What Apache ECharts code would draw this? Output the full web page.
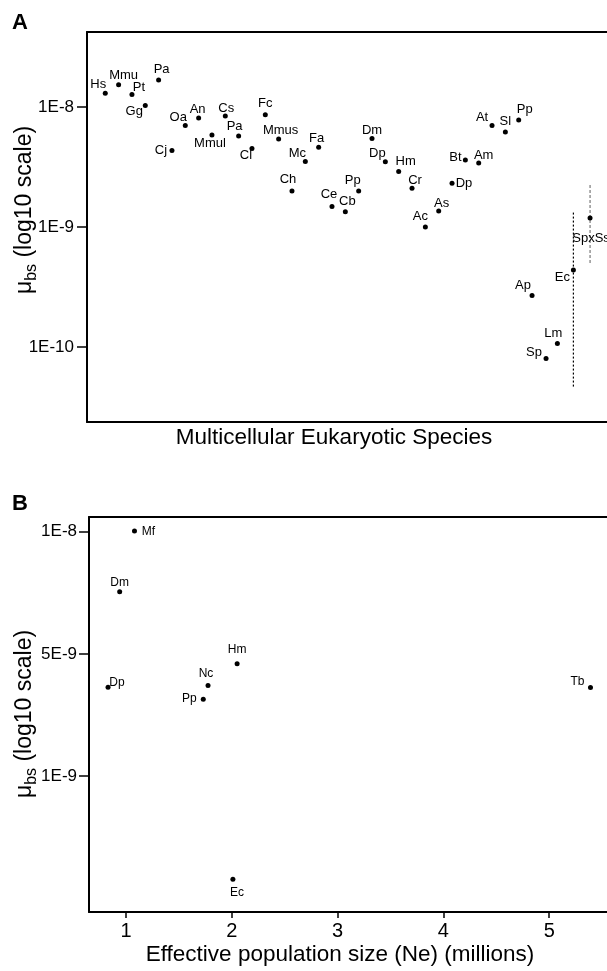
<!DOCTYPE html>
<html>
<head>
<meta charset="utf-8">
<script src="https://cdn.jsdelivr.net/npm/echarts@6/dist/echarts.min.js"></script>
<style>
html, body { margin: 0; padding: 0; background: #fff; }
#chart { width: 607px; height: 971px; }
</style>
</head>
<body>
<div id="chart"></div>
<script>
// Panel A: multicellular eukaryotes, base-substitution mutation rate (per site per generation)
const speciesA = ['Hs', 'Mmu', 'Pt', 'Gg', 'Pa', 'Cj', 'Oa', 'An', 'Mmul', 'Cs', 'Pa', 'Cl', 'Fc', 'Mmus', 'Ch', 'Mc',
  'Fa', 'Ce', 'Cb', 'Pp', 'Dm', 'Dp', 'Hm', 'Cr', 'Ac', 'As', 'Dp', 'Bt', 'Am', 'At', 'Sl', 'Pp', 'Ap', 'Sp', 'Lm', 'Ec', 'SpxSs']
const orderA = [0, 1, 2, 3, 4, 5, 6, 7, 8, 9, 10, 11, 12, 13, 14, 15,
  16, 17, 18, 19, 20, 21, 22, 23, 24, 25, 26, 27, 28, 29, 30, 31, 32, 33.05, 33.9, 35.1, 36.35]
const muA = [1.30e-8, 1.53e-8, 1.27e-8, 1.03e-8, 1.68e-8, 4.33e-9, 7.0e-9, 8.1e-9, 5.85e-9, 8.4e-9, 5.73e-9, 4.52e-9, 8.6e-9, 5.41e-9, 2.0e-9, 3.52e-9,
  4.61e-9, 1.48e-9, 1.34e-9, 2.0e-9, 5.47e-9, 3.5e-9, 2.9e-9, 2.1e-9, 1.0e-9, 1.36e-9, 2.31e-9, 3.61e-9, 3.41e-9, 7.0e-9, 6.19e-9, 7.79e-9, 2.68e-10, 8.03e-11, 1.07e-10, 4.38e-10, 1.19e-9]
// ranges drawn as vertical dotted lines
const ecRange = [4.68e-11, 1.32e-9]
const spxssRange = [5.0e-10, 2.25e-9]
const ticksA = [-10, -9, -8]

// Panel B: effective population size (millions) vs mu (position on the printed axis)
const speciesB = ['Mf', 'Dm', 'Dp', 'Nc', 'Pp', 'Hm', 'Ec', 'Tb']
const neB = [1.08, 0.94, 0.83, 1.775, 1.73, 2.05, 2.01, 5.39]
const yPosB = [2.006, 1.508, 0.727, 0.74, 0.629, 0.918, -0.844, 0.724]
const ticksB = [0, 1, 2]
const tickLabelsB = ['1E-9', '5E-9', '1E-8']
const ticksBx = [1, 2, 3, 4, 5]

// where each label sits relative to its dot
const labelOffsetA = [[-7, -9], [5, -9], [7, -7], [-11, 6], [3, -11], [-11, 0], [-7, -8], [-1, -9], [-2, 8], [1, -8], [-4, -10], [-6, 7], [0, -11], [2, -9], [-4, -11], [-8, -8],
  [-2, -9], [-3, -12], [2, -10], [-6, -10], [0, -8], [-8, -8], [7, -10], [3, -8], [-5, -11], [3, -8], [12, 0], [-10, -3], [5, -8], [-10, -8], [0, -11], [6, -11], [-9, -10], [-12, -6], [-4, -10], [-11, 7], [1, 20]]
const labelOffsetB = [[14, 1], [0, -9], [9, -5], [-2, -12], [-14, 0], [0, -14], [4, 14], [-13, -6]]

const FONT = 'Liberation Sans, Arial, sans-serif'

const chart = echarts.init(document.getElementById('chart'))

const dataA = speciesA.map(function (s, i) {
  return {
    name: s,
    value: [orderA[i], Math.log10(muA[i])],
    label: { offset: labelOffsetA[i] }
  }
})
const dataB = speciesB.map(function (s, i) {
  return {
    name: s,
    value: [neB[i], yPosB[i]],
    label: { offset: labelOffsetB[i] }
  }
})

const yNameRich = {
  m: { fontSize: 23, fontFamily: FONT, fill: '#000', color: '#000' },
  s: { fontSize: 16, fontFamily: FONT, fill: '#000', color: '#000', padding: [14, 0, 0, 0] }
}

const blackLine = { color: '#000', width: 2 }

// only a line on top, the plot runs off the right edge
function topLine(gridIndex, min, max) {
  return {
    gridIndex: gridIndex,
    type: 'value',
    position: 'top',
    min: min,
    max: max,
    axisLine: { show: true, onZero: false, lineStyle: blackLine },
    axisTick: { show: false },
    axisLabel: { show: false },
    splitLine: { show: false }
  }
}

chart.setOption({
  animation: false,
  grid: [
    { left: 87, top: 32, width: 520, height: 390 },
    { left: 89, top: 517, width: 518, height: 395 }
  ],
  xAxis: [
    {
      gridIndex: 0,
      type: 'value',
      min: -1.37,
      max: 37.62,
      axisLine: { show: true, onZero: false, lineStyle: blackLine },
      axisTick: { show: false },
      axisLabel: { show: false },
      splitLine: { show: false }
    },
    {
      gridIndex: 1,
      type: 'value',
      min: 0.65,
      max: 5.546,
      axisLine: { show: true, onZero: false, lineStyle: blackLine },
      axisTick: { show: true, customValues: ticksBx, length: 6, lineStyle: { color: '#000', width: 1.5 } },
      axisLabel: { customValues: ticksBx, color: '#000', fontSize: 20, fontFamily: FONT, margin: 9 },
      splitLine: { show: false }
    },
    topLine(0, -1.37, 37.62),
    topLine(1, 0.65, 5.546)
  ],
  yAxis: [
    {
      gridIndex: 0,
      type: 'value',
      min: -10.625,
      max: -7.375,
      axisLine: { show: true, onZero: false, lineStyle: blackLine },
      axisTick: { show: true, customValues: ticksA, length: 10, lineStyle: { color: '#000', width: 1.5 } },
      axisLabel: {
        customValues: ticksA,
        color: '#000',
        fontSize: 17,
        fontFamily: FONT,
        margin: 13,
        formatter: function (v) { return '1E' + Math.round(v) }
      },
      splitLine: { show: false }
    },
    {
      gridIndex: 1,
      type: 'value',
      min: -1.113,
      max: 2.12,
      axisLine: { show: true, onZero: false, lineStyle: blackLine },
      axisTick: { show: true, customValues: ticksB, length: 10, lineStyle: { color: '#000', width: 1.5 } },
      axisLabel: {
        customValues: ticksB,
        color: '#000',
        fontSize: 17,
        fontFamily: FONT,
        margin: 12,
        formatter: function (v) { return tickLabelsB[Math.round(v)] }
      },
      splitLine: { show: false }
    }
  ],
  series: [
    {
      type: 'line',
      xAxisIndex: 0,
      yAxisIndex: 0,
      data: ecRange.map(function (v) { return [orderA[35], Math.log10(v)] }),
      showSymbol: false,
      symbol: 'none',
      lineStyle: { color: '#000', width: 1.2, type: [2, 2] },
      z: 1
    },
    {
      type: 'line',
      xAxisIndex: 0,
      yAxisIndex: 0,
      data: spxssRange.map(function (v) { return [orderA[36], Math.log10(v)] }),
      showSymbol: false,
      symbol: 'none',
      lineStyle: { color: '#777', width: 1.2, type: [3, 2] },
      z: 1
    },
    {
      type: 'scatter',
      xAxisIndex: 0,
      yAxisIndex: 0,
      data: dataA,
      symbolSize: 5,
      itemStyle: { color: '#000', opacity: 1 },
      label: {
        show: true,
        position: 'inside',
        formatter: '{b}',
        color: '#000',
        fontSize: 13,
        fontFamily: FONT
      },
      z: 3
    },
    {
      type: 'scatter',
      xAxisIndex: 1,
      yAxisIndex: 1,
      data: dataB,
      symbolSize: 5,
      itemStyle: { color: '#000', opacity: 1 },
      label: {
        show: true,
        position: 'inside',
        formatter: '{b}',
        color: '#000',
        fontSize: 12,
        fontFamily: FONT
      },
      z: 3
    }
  ],
  graphic: [
    { type: 'text', left: 12, top: 12, style: { text: 'A', font: 'bold 22px ' + FONT, fill: '#000' } },
    { type: 'text', left: 12, top: 493, style: { text: 'B', font: 'bold 22px ' + FONT, fill: '#000' } },
    {
      type: 'text', x: 334, y: 438,
      style: { text: 'Multicellular Eukaryotic Species', font: '22.5px ' + FONT, fill: '#000', align: 'center', verticalAlign: 'middle' }
    },
    {
      type: 'text', x: 340, y: 955,
      style: { text: 'Effective population size (Ne) (millions)', font: '22.5px ' + FONT, fill: '#000', align: 'center', verticalAlign: 'middle' }
    },
    {
      type: 'text', x: 25, y: 210, rotation: Math.PI / 2,
      style: { text: '{m|μ}{s|bs}{m| (log10 scale)}', rich: yNameRich, align: 'center', verticalAlign: 'middle' }
    },
    {
      type: 'text', x: 25, y: 714, rotation: Math.PI / 2,
      style: { text: '{m|μ}{s|bs}{m| (log10 scale)}', rich: yNameRich, align: 'center', verticalAlign: 'middle' }
    }
  ]
})
</script>
</body>
</html>
